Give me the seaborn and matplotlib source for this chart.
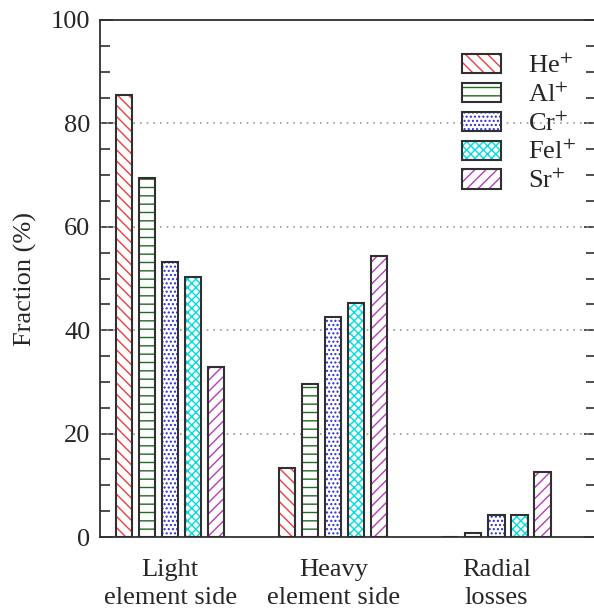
import numpy as np
import pandas as pd
import matplotlib
matplotlib.use("Agg")
import matplotlib.pyplot as plt
import seaborn as sns
from matplotlib.patches import Patch
from matplotlib.legend_handler import HandlerTuple
from matplotlib.ticker import MultipleLocator

regions = ["Light\nelement side", "Heavy\nelement side", "Radial\nlosses"]
ions = ["He$^{+}$", "Al$^{+}$", "Cr$^{+}$", "Fel$^{+}$", "Sr$^{+}$"]

he = [85.5, 13.3, 0.0]
al = [69.4, 29.6, 0.8]
cr = [53.2, 42.6, 4.3]
fe = [50.3, 45.3, 4.2]
sr = [32.9, 54.3, 12.6]

hatches = ["\\\\\\", "--", "....", "xxxx", "///"]
hatch_colors = ["#f03c3c", "#1f6b1f", "#2b2bd0", "#00dede", "#b83db8"]
edge = "#303030"

df = pd.DataFrame({
    "region": np.repeat(regions, len(ions)),
    "ion": ions * len(regions),
    "fraction": np.array([he, al, cr, fe, sr]).T.ravel(),
})

sns.set_style("ticks")
plt.rcParams["font.family"] = ["Liberation Serif", "DejaVu Serif"]
plt.rcParams["mathtext.fontset"] = "stix"
plt.rcParams["hatch.linewidth"] = 1.0

fig = plt.figure(figsize=(5.94, 6.08), dpi=100)
ax = fig.add_axes([100 / 594, 1 - 537 / 608, 496 / 594, 517 / 608])

# hatched fill, hatch drawn in colour
sns.barplot(data=df, x="region", y="fraction", hue="ion", order=regions,
            hue_order=ions, palette=["white"] * 5, width=0.706, gap=0.3,
            linewidth=0, legend=False, ax=ax, zorder=2)
for cont, h, c in zip(ax.containers, hatches, hatch_colors):
    for bar in cont:
        bar.set_hatch(h)
        bar.set_edgecolor(c)
        bar.set_linewidth(0)

# dark outlines on top
sns.barplot(data=df, x="region", y="fraction", hue="ion", order=regions,
            hue_order=ions, palette=[edge] * 5, width=0.706, gap=0.3,
            fill=False, linewidth=1.5, legend=False, ax=ax, zorder=3)

ax.set_xlim(-0.43, 2.61)
ax.set_ylim(0, 100)
ax.yaxis.set_major_locator(MultipleLocator(20))
ax.yaxis.set_minor_locator(MultipleLocator(5))
ax.tick_params(axis="y", which="both", direction="in", left=True, right=True,
               labelsize=19, pad=7, width=1.2, color=edge)
ax.tick_params(axis="y", which="major", length=9)
ax.tick_params(axis="y", which="minor", length=7)
ax.tick_params(axis="x", length=0, labelsize=19, pad=16)
for lab in ax.get_xticklabels():
    lab.set_linespacing(1.35)
for sp in ax.spines.values():
    sp.set_linewidth(1.3)
    sp.set_color(edge)
    sp.set_visible(True)

for yv in [20, 40, 60, 80]:
    ax.axhline(yv, color="#999999", lw=1.2, ls=(0, (1, 3)), zorder=1)

ax.set_xlabel("")
ax.set_ylabel("Fraction (%)", fontsize=19, labelpad=10)

handles = [(Patch(facecolor="white", edgecolor=c, hatch=h, lw=0),
            Patch(fill=False, edgecolor=edge, lw=1.5))
           for h, c in zip(hatches, hatch_colors)]
ax.legend(handles, ions, handler_map={tuple: HandlerTuple(ndivide=1)},
          frameon=False, fontsize=19, loc="upper right",
          bbox_to_anchor=(0.98, 0.955), handlelength=1.5, handleheight=0.75,
          handletextpad=1.0, labelspacing=0.18, borderaxespad=0)

fig.savefig("out.png", dpi=100)
